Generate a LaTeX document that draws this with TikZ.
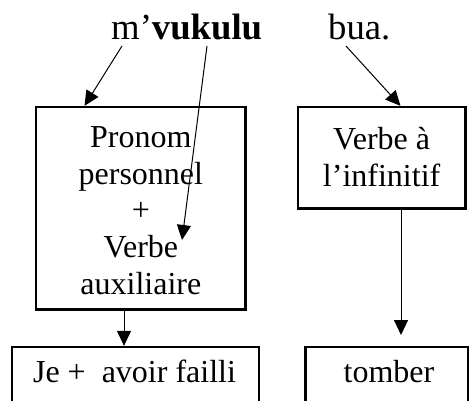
\documentclass[tikz,border=0pt]{standalone}
\usepackage{fontspec}
\setmainfont{Liberation Serif}
\usetikzlibrary{arrows.meta}
\begin{document}
\begin{tikzpicture}[x=1pt,y=-1pt,
  box/.style={draw, line width=2.3pt, fill=white, inner sep=0pt},
  txt/.style={anchor=base, inner sep=0pt, font=\fontsize{32}{36.8}\selectfont},
  toptxt/.style={anchor=base west, inner sep=0pt, font=\fontsize{36.7}{42}\selectfont},
  arr/.style={line width=1pt, -{Triangle[length=15pt,width=14pt]}}]
\clip (0,0) rectangle (469,401);
\fill[white] (0,0) rectangle (469,401);

% top words
\node[toptxt] (w1) at (111,39.5) {m’\textbf{vukulu}};
\node[toptxt] (w2) at (328,39.5) {bua.};

% boxes
\node[box, minimum width=209.3pt, minimum height=202.5pt] (b1) at (140.85,208.25) {};
\node[box, minimum width=167.7pt, minimum height=101.5pt] (b2) at (381.65,157.75) {};
\node[box, minimum width=247pt, minimum height=73pt] (b3) at (135.5,383.5) {};
\node[box, minimum width=162.5pt, minimum height=73pt] (b4) at (386.75,383.5) {};

% box texts
\node[txt] (t11) at (140.85,148) {Pronom};
\node[txt] (t12) at (140.85,184.5) {personnel};
\node[txt] (t13) at (140.85,221) {+};
\node[txt] (t14) at (140.85,257.5) {Verbe};
\node[txt] (t15) at (140.85,294) {auxiliaire};
\node[txt] (t21) at (381.65,150) {Verbe à};
\node[txt] (t22) at (381.65,187) {l’infinitif};
\node[txt] (t3) at (134.5,382) {Je + \ avoir failli};
\node[txt] (t4) at (389,382) {tomber};

% connector end points
\coordinate (s1) at (122,46);
\coordinate (s2) at (207,46);
\coordinate (e2) at (182,240);
\coordinate (s3) at (346,46);
\coordinate (e4) at (401,335);

% connectors
\draw[arr] (s1) -- ([xshift=-56.35pt]b1.north);
\draw[arr] (s2) -- (e2);
\draw[arr] (s3) -- ([xshift=18.85pt]b2.north);
\draw[arr] ([xshift=19.35pt]b2.south) -- (e4);
\draw[arr] ([xshift=-16.85pt]b1.south) -- ([xshift=-11.5pt]b3.north);
\end{tikzpicture}
\end{document}
